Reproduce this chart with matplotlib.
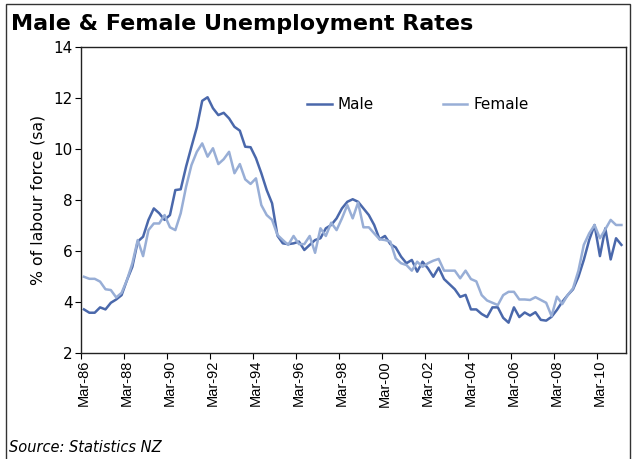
import numpy as np
import matplotlib.pyplot as plt
from matplotlib.patches import Rectangle

# quarterly, Mar-86 .. Mar-11
male = [3.71, 3.58, 3.58, 3.79, 3.71, 3.97, 4.1, 4.27, 4.86, 5.38,
        6.37, 6.56, 7.22, 7.67, 7.48, 7.22, 7.41, 8.39, 8.42, 9.31,
        10.09, 10.85, 11.89, 12.03, 11.6, 11.33, 11.42, 11.2, 10.87, 10.72,
        10.09, 10.07, 9.64, 9.05, 8.39, 7.87, 6.6, 6.3, 6.27, 6.3,
        6.37, 6.04, 6.24, 6.43, 6.5, 6.89, 7.02, 7.28, 7.67, 7.93,
        8.03, 7.93, 7.67, 7.41, 7.02, 6.46, 6.59, 6.27, 6.14, 5.78,
        5.52, 5.65, 5.19, 5.58, 5.32, 4.99, 5.35, 4.9, 4.7, 4.5,
        4.2, 4.28, 3.71, 3.71, 3.53, 3.41, 3.79, 3.79, 3.38, 3.19,
        3.79, 3.41, 3.59, 3.47, 3.6, 3.3, 3.27, 3.42, 3.69, 4.01,
        4.27, 4.5, 4.99, 5.65, 6.43, 7.02, 5.8, 6.89, 5.67, 6.5,
        6.24]
female = [4.99, 4.91, 4.91, 4.8, 4.5, 4.47, 4.18, 4.36, 4.86, 5.52,
          6.43, 5.8, 6.82, 7.08, 7.08, 7.41, 6.93, 6.82, 7.48, 8.52,
          9.37, 9.89, 10.22, 9.7, 10.03, 9.41, 9.6, 9.89, 9.05, 9.41,
          8.81, 8.63, 8.85, 7.8, 7.41, 7.22, 6.63, 6.43, 6.24, 6.59,
          6.27, 6.27, 6.59, 5.93, 6.89, 6.59, 7.11, 6.82, 7.28, 7.8,
          7.28, 7.9, 6.93, 6.93, 6.69, 6.46, 6.43, 6.37, 5.71, 5.52,
          5.45, 5.23, 5.58, 5.38, 5.52, 5.62, 5.69, 5.23, 5.23, 5.23,
          4.93, 5.23, 4.9, 4.81, 4.27, 4.06, 3.97, 3.88, 4.27, 4.4,
          4.4, 4.1, 4.1, 4.08, 4.19, 4.08, 3.97, 3.45, 4.21, 3.92,
          4.27, 4.54, 5.23, 6.24, 6.69, 7.02, 6.5, 6.85, 7.22, 7.02,
          7.02]
labels = ["Mar-86", "Mar-88", "Mar-90", "Mar-92", "Mar-94", "Mar-96",
          "Mar-98", "Mar-00", "Mar-02", "Mar-04", "Mar-06", "Mar-08", "Mar-10"]

male_col = "#4a68ab"
female_col = "#98aed6"

fig = plt.figure(figsize=(6.37, 4.59), dpi=100)
ax = fig.add_axes([0.1276, 0.2309, 0.8547, 0.6667])

x = np.arange(len(male))
ax.plot(x, male, color=male_col, lw=1.8, label="Male")
ax.plot(x, female, color=female_col, lw=1.8, label="Female")

ax.set_xlim(-0.5, len(male) - 0.2)
ax.set_ylim(2, 14)
ax.set_yticks(range(2, 15, 2))
ax.tick_params(axis="y", labelsize=11, length=4, direction="out", pad=2)

# tick marks between categories, labels centred on the category
ax.set_xticks(np.arange(-0.5, len(male), 8))
ax.set_xticklabels([])
ax.tick_params(axis="x", which="major", length=4, direction="out")
ax.set_xticks(np.arange(0, len(male), 8), minor=True)
ax.set_xticklabels(labels, minor=True, rotation=90, fontsize=10.5,
                   family="Liberation Sans")
ax.tick_params(axis="x", which="minor", length=0, pad=5)

for s in ax.spines.values():
    s.set_linewidth(1.0)
    s.set_color("#222222")

ax.set_ylabel("% of labour force (sa)", fontsize=11.3, labelpad=6)

ax.legend(loc="upper left", bbox_to_anchor=(0.39, 0.88), ncol=2, frameon=False,
          fontsize=11, handlelength=1.6, columnspacing=4.5, handletextpad=0.4)

fig.text(0.018, 0.947, "Male & Female Unemployment Rates", fontsize=16,
         fontweight="bold", va="center")
fig.text(0.014, 0.026, "Source: Statistics NZ", fontsize=10.5, style="italic",
         va="center")

fig.patches.append(Rectangle((6 / 637, -0.02), 624 / 637, 1.02 - 4 / 459,
                             transform=fig.transFigure, fill=False,
                             lw=1.0, ec="#333333"))

fig.savefig("out.png", dpi=100)
